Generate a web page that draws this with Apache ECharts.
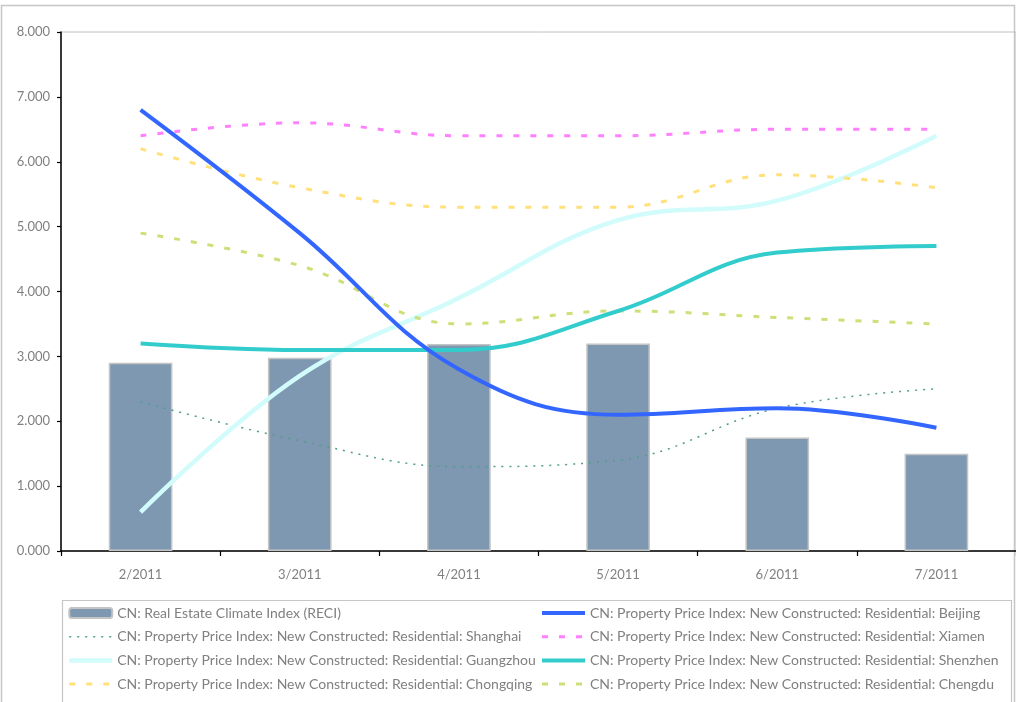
<!DOCTYPE html>
<html>
<head>
<meta charset="utf-8">
<script src="https://cdn.jsdelivr.net/npm/echarts@6/dist/echarts.min.js"></script>
<style>
  html, body { margin: 0; padding: 0; background: #ffffff; }
  #chart { width: 1016px; height: 702px; }
</style>
</head>
<body>
<div id="chart"></div>
<script>
// Monthly categories
const months = ['2/2011', '3/2011', '4/2011', '5/2011', '6/2011', '7/2011'];

// Real Estate Climate Index (bars)
const reci = [2.90, 2.98, 3.19, 3.20, 1.75, 1.50];

// Property price indices, new constructed residential (lines)
const beijing   = [6.8, 4.9, 2.8, 2.1, 2.2, 1.9];
const shanghai  = [2.3, 1.7, 1.3, 1.4, 2.2, 2.5];
const xiamen    = [6.4, 6.6, 6.4, 6.4, 6.5, 6.5];
const guangzhou = [0.6, 2.7, 3.9, 5.1, 5.4, 6.4];
const shenzhen  = [3.2, 3.1, 3.1, 3.7, 4.6, 4.7];
const chongqing = [6.2, 5.6, 5.3, 5.3, 5.8, 5.6];
const chengdu   = [4.9, 4.4, 3.5, 3.7, 3.6, 3.5];

const PREFIX = 'CN: Property Price Index: New Constructed: Residential: ';
const N_RECI = 'CN: Real Estate Climate Index (RECI)';
const N_BJ = PREFIX + 'Beijing';
const N_SH = PREFIX + 'Shanghai';
const N_XM = PREFIX + 'Xiamen';
const N_GZ = PREFIX + 'Guangzhou';
const N_SZ = PREFIX + 'Shenzhen';
const N_CQ = PREFIX + 'Chongqing';
const N_CD = PREFIX + 'Chengdu';

const FONT = 'Lato, "Liberation Sans", sans-serif';
const GREY_TEXT = '#808080';

// line styles shared by each series and its legend swatch
const styles = {};
styles[N_SH] = { color: '#4f9f86', width: 1.5, type: [2, 6] };
styles[N_GZ] = { color: '#d2fcfc', width: 4.5, type: 'solid' };
styles[N_CQ] = { color: '#ffe07a', width: 3, type: [6, 11] };
styles[N_CD] = { color: '#cde078', width: 3, type: [6, 11] };
styles[N_XM] = { color: '#ff80ff', width: 3, type: [6, 11] };
styles[N_SZ] = { color: '#33cccc', width: 4, type: 'solid' };
styles[N_BJ] = { color: '#3366ff', width: 4, type: 'solid' };

function lineSeries(name, data, z) {
  const s = styles[name];
  return {
    name: name,
    type: 'line',
    data: data,
    smooth: 0.4,
    symbol: 'none',
    z: z,
    lineStyle: { color: s.color, width: s.width, type: s.type, cap: 'butt' },
    itemStyle: { color: s.color }
  };
}

// legend entry for a line series: the line only, no marker dot
function lineLegendItem(name) {
  const s = styles[name];
  return {
    name: name,
    itemStyle: { opacity: 0 },
    lineStyle: { color: s.color, width: s.width, type: s.type, cap: 'butt', opacity: 1 }
  };
}

const legendCommon = {
  orient: 'vertical',
  itemWidth: 43,
  itemHeight: 10,
  itemGap: 9.7,
  textStyle: { color: GREY_TEXT, fontSize: 14, fontFamily: FONT, lineHeight: 14 },
  padding: 0,
  selectedMode: false
};

const chart = echarts.init(document.getElementById('chart'), null, { renderer: 'canvas' });

chart.setOption({
  animation: false,
  backgroundColor: '#ffffff',
  textStyle: { fontFamily: FONT },
  graphic: [
    {
      type: 'rect',
      shape: { x: 1.5, y: 5.5, width: 1013, height: 710 },
      style: { fill: 'none', stroke: '#c6c6c6', lineWidth: 1.5 },
      silent: true, z: -10
    },
    {
      type: 'rect',
      shape: { x: 62.5, y: 600.5, width: 949, height: 110 },
      style: { fill: 'none', stroke: '#c6c6c6', lineWidth: 1.2 },
      silent: true, z: -10
    }
  ],
  grid: {
    left: 61, top: 32, width: 956, height: 519,
    show: true, borderColor: '#c0c0c0', borderWidth: 1
  },
  legend: [
    Object.assign({}, legendCommon, {
      left: 67, top: 606,
      data: [
        { name: N_RECI },
        lineLegendItem(N_SH),
        lineLegendItem(N_GZ),
        lineLegendItem(N_CQ)
      ]
    }),
    Object.assign({}, legendCommon, {
      left: 540, top: 606,
      data: [
        lineLegendItem(N_BJ),
        lineLegendItem(N_XM),
        lineLegendItem(N_SZ),
        lineLegendItem(N_CD)
      ]
    })
  ],
  xAxis: {
    type: 'category',
    data: months,
    boundaryGap: true,
    axisLine: { lineStyle: { color: '#000000', width: 1.5 } },
    axisTick: { show: true, length: 5, lineStyle: { color: '#000000', width: 1.2 } },
    axisLabel: { color: GREY_TEXT, fontSize: 13, fontFamily: FONT, margin: 17 },
    splitLine: { show: false }
  },
  yAxis: {
    type: 'value',
    min: 0, max: 8, interval: 1,
    axisLine: { show: true, lineStyle: { color: '#000000', width: 1.5 } },
    axisTick: { show: true, length: 4, lineStyle: { color: '#000000', width: 1.2 } },
    axisLabel: {
      color: GREY_TEXT, fontSize: 13, fontFamily: FONT, margin: 11,
      formatter: function (v) { return v.toFixed(3); }
    },
    splitLine: { show: false }
  },
  series: [
    {
      name: N_RECI,
      type: 'bar',
      data: reci,
      barWidth: '40%',
      z: 1,
      itemStyle: { color: '#7f98b2', borderColor: '#c4c4c4', borderWidth: 1.5 }
    },
    lineSeries(N_SH, shanghai, 2),
    lineSeries(N_GZ, guangzhou, 3),
    lineSeries(N_CQ, chongqing, 4),
    lineSeries(N_CD, chengdu, 5),
    lineSeries(N_XM, xiamen, 6),
    lineSeries(N_SZ, shenzhen, 7),
    lineSeries(N_BJ, beijing, 8)
  ]
});
</script>
</body>
</html>
